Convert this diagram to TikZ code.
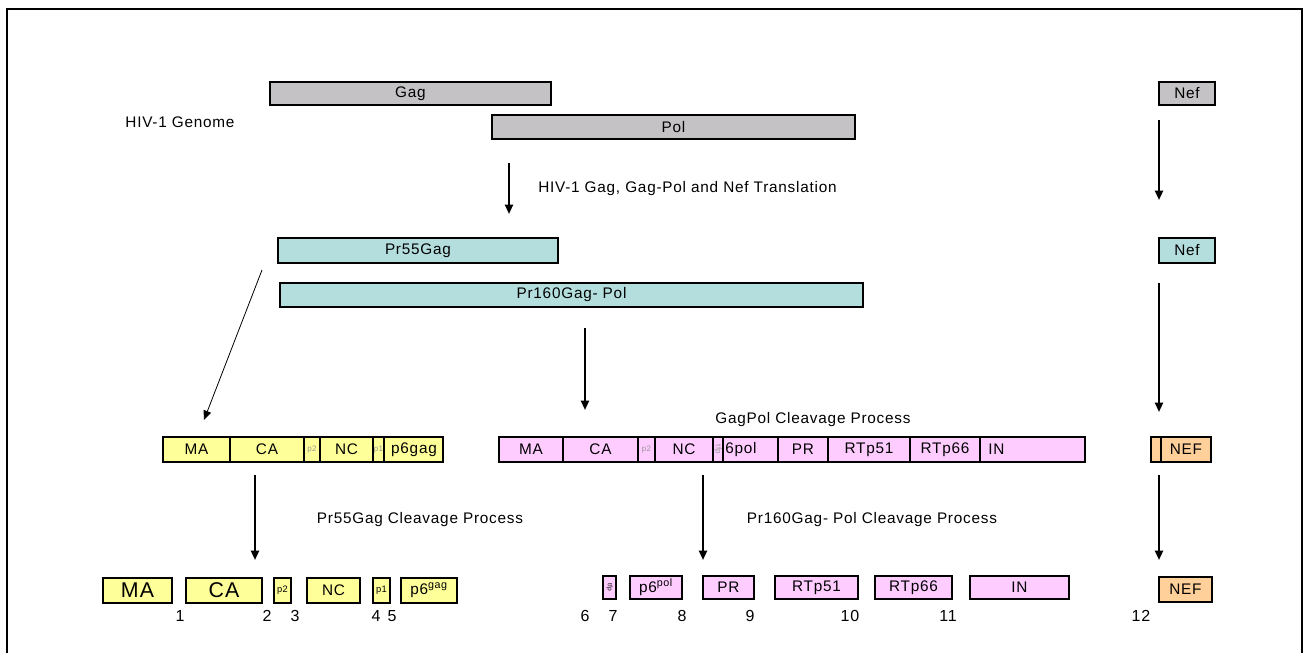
\documentclass[tikz,border=0pt]{standalone}
\usepackage{fontspec}
\setmainfont{Liberation Sans}[LetterSpace=5]
\usetikzlibrary{arrows.meta}
\definecolor{genc}{RGB}{196,194,196}
\definecolor{cyanc}{RGB}{180,222,222}
\definecolor{yelc}{RGB}{255,255,153}
\definecolor{pinkc}{RGB}{255,204,255}
\definecolor{orac}{RGB}{255,208,153}
\definecolor{faint}{RGB}{150,150,150}
\newcommand\bx[7]{\node[#1, anchor=north west, minimum width={(#5-#3)*0.75pt}, minimum height={(#6-#4)*0.75pt}] (#2) at (#3,#4) {#7};}
\tikzset{
  base/.style={draw, line width=1.1pt, inner sep=0pt, outer sep=0pt, font=\fontsize{11.5}{13}\selectfont},
  genbox/.style={base, fill=genc},
  cybox/.style={base, fill=cyanc},
  ybox/.style={base, fill=yelc},
  pbox/.style={base, fill=pinkc},
  obox/.style={base, fill=orac},
  lbl/.style={font=\fontsize{11.5}{13}\selectfont, inner sep=0pt},
  num/.style={font=\fontsize{12}{14}\selectfont, inner sep=0pt},
  tiny/.style={font=\fontsize{6}{7}\selectfont, text=faint},
  arr/.style={line width=1.5pt, -{Triangle[length=7pt,width=6pt]}},
  thinarr/.style={line width=0.6pt, -{Triangle[length=7pt,width=6pt]}}
}
\begin{document}
\begin{tikzpicture}[x=0.75pt,y=-0.75pt]
\useasboundingbox (0,0) rectangle (1304,653);
\draw[line width=1.5pt] (7,653) -- (7,9) -- (1302,9) -- (1302,653);

% genome
\bx{genbox}{gag}{270}{82}{551}{105}{Gag}
\bx{genbox}{pol}{492}{115}{855}{139}{Pol}
\bx{genbox}{nefA}{1159}{82}{1215}{105}{Nef}
\node[lbl] (genome) at (180,122) {HIV-1 Genome};

\coordinate (t1s) at (509,163); \coordinate (t1e) at (509,214);
\draw[arr] (t1s) -- (t1e);
\node[lbl, anchor=west] (transl) at (538,189) {HIV-1 Gag, Gag-Pol and Nef Translation};
\coordinate (n1s) at (1159,120); \coordinate (n1e) at (1159,200);
\draw[arr] (n1s) -- (n1e);

% precursors
\bx{cybox}{pr55}{278}{238}{558}{263}{Pr55Gag}
\bx{cybox}{pr160}{280}{283}{863}{307}{Pr160Gag- Pol}
\bx{cybox}{nefB}{1159}{238}{1215}{263}{Nef}

\coordinate (d1s) at (262,270); \coordinate (d1e) at (204,420);
\draw[thinarr] (d1s) -- (d1e);
\coordinate (p1s) at (585,328); \coordinate (p1e) at (585,410);
\draw[arr] (p1s) -- (p1e);
\coordinate (n2s) at (1159,283); \coordinate (n2e) at (1159,412);
\draw[arr] (n2s) -- (n2e);
\node[lbl] (gpcp) at (813,420) {GagPol Cleavage Process};

% Gag row
\bx{ybox}{gMA}{163}{437}{230}{462}{MA}
\bx{ybox}{gCA}{230}{437}{304}{462}{CA}
\bx{ybox,tiny}{gp2}{304}{437}{320}{462}{p2}
\bx{ybox}{gNC}{320}{437}{373}{462}{NC}
\bx{ybox,tiny}{gp1}{373}{437}{384}{462}{p1}
\bx{ybox}{gp6}{384}{437}{443}{462}{}
\node[lbl] (gp6t) at (414,449.5) {p6gag};

% GagPol row
\bx{pbox}{pMA}{499}{437}{563}{462}{MA}
\bx{pbox}{pCA}{563}{437}{638}{462}{CA}
\bx{pbox,tiny}{pp2}{638}{437}{655}{462}{p2}
\bx{pbox}{pNC}{655}{437}{713}{462}{NC}
\bx{pbox}{ptf}{713}{437}{723}{462}{}
\node[tiny, rotate=-90, inner sep=0pt] (ptft) at (ptf) {tfp};
\bx{pbox}{pp6}{723}{437}{778}{462}{}
\node[lbl, anchor=west] (pp6t) at (725,449.5) {6pol};
\bx{pbox}{pPR}{778}{437}{828}{462}{PR}
\bx{pbox}{pRT51}{828}{437}{910}{462}{RTp51}
\bx{pbox}{pRT66}{910}{437}{980}{462}{RTp66}
\bx{pbox}{pIN}{980}{437}{1085}{462}{}
\node[lbl, anchor=west] (pINt) at (988,449.5) {IN};

% Nef row
\bx{obox}{nA}{1151}{437}{1161}{462}{}
\bx{obox}{nB}{1161}{437}{1211}{462}{NEF}

% arrows to products
\coordinate (c1s) at (255,475); \coordinate (c1e) at (255,560);
\draw[arr] (c1s) -- (c1e);
\coordinate (c2s) at (703,475); \coordinate (c2e) at (703,560);
\draw[arr] (c2s) -- (c2e);
\coordinate (c3s) at (1159,475); \coordinate (c3e) at (1159,560);
\draw[arr] (c3s) -- (c3e);
\node[lbl] (gcp) at (420,520) {Pr55Gag Cleavage Process};
\node[lbl] (pcp) at (872,520) {Pr160Gag- Pol Cleavage Process};

% products
\bx{ybox,font=\fontsize{16}{18}\selectfont}{bMA}{103}{578}{172}{603}{MA}
\bx{ybox,font=\fontsize{16}{18}\selectfont}{bCA}{186}{578}{262}{603}{CA}
\bx{ybox,font=\fontsize{7}{8}\selectfont}{bp2}{274}{578}{291}{603}{p2}
\bx{ybox}{bNC}{307}{578}{360}{603}{NC}
\bx{ybox,font=\fontsize{7}{8}\selectfont}{bp1}{373}{578}{390}{603}{p1}
\bx{ybox}{bp6}{401}{578}{457}{603}{p6\textsuperscript{gag}}

\bx{pbox}{b7}{603}{576}{616}{599}{}
\node[font=\fontsize{5}{6}\selectfont, rotate=-90, inner sep=0pt] (b7t) at (b7) {tfp};
\bx{pbox}{bp6p}{630}{576}{682}{599}{p6\textsuperscript{pol}}
\bx{pbox}{bPR}{703}{576}{754}{599}{PR}
\bx{pbox}{bRT51}{775}{576}{858}{599}{RTp51}
\bx{pbox}{bRT66}{875}{576}{952}{599}{RTp66}
\bx{pbox}{bIN}{970}{576}{1069}{599}{IN}
\bx{obox}{bNEF}{1159}{577}{1212}{602}{NEF}

% numbers
\node[num] (n1) at (180,616) {1};
\node[num] (n2) at (267,616) {2};
\node[num] (n3) at (295,616) {3};
\node[num] (n4) at (376,616) {4};
\node[num] (n5) at (392,616) {5};
\node[num] (n6) at (585,616) {6};
\node[num] (n7) at (613,616) {7};
\node[num] (n8) at (682,616) {8};
\node[num] (n9) at (750,616) {9};
\node[num] (n10) at (850,616) {10};
\node[num] (n11) at (948,616) {11};
\node[num] (n12) at (1141,616) {12};
\end{tikzpicture}
\end{document}
